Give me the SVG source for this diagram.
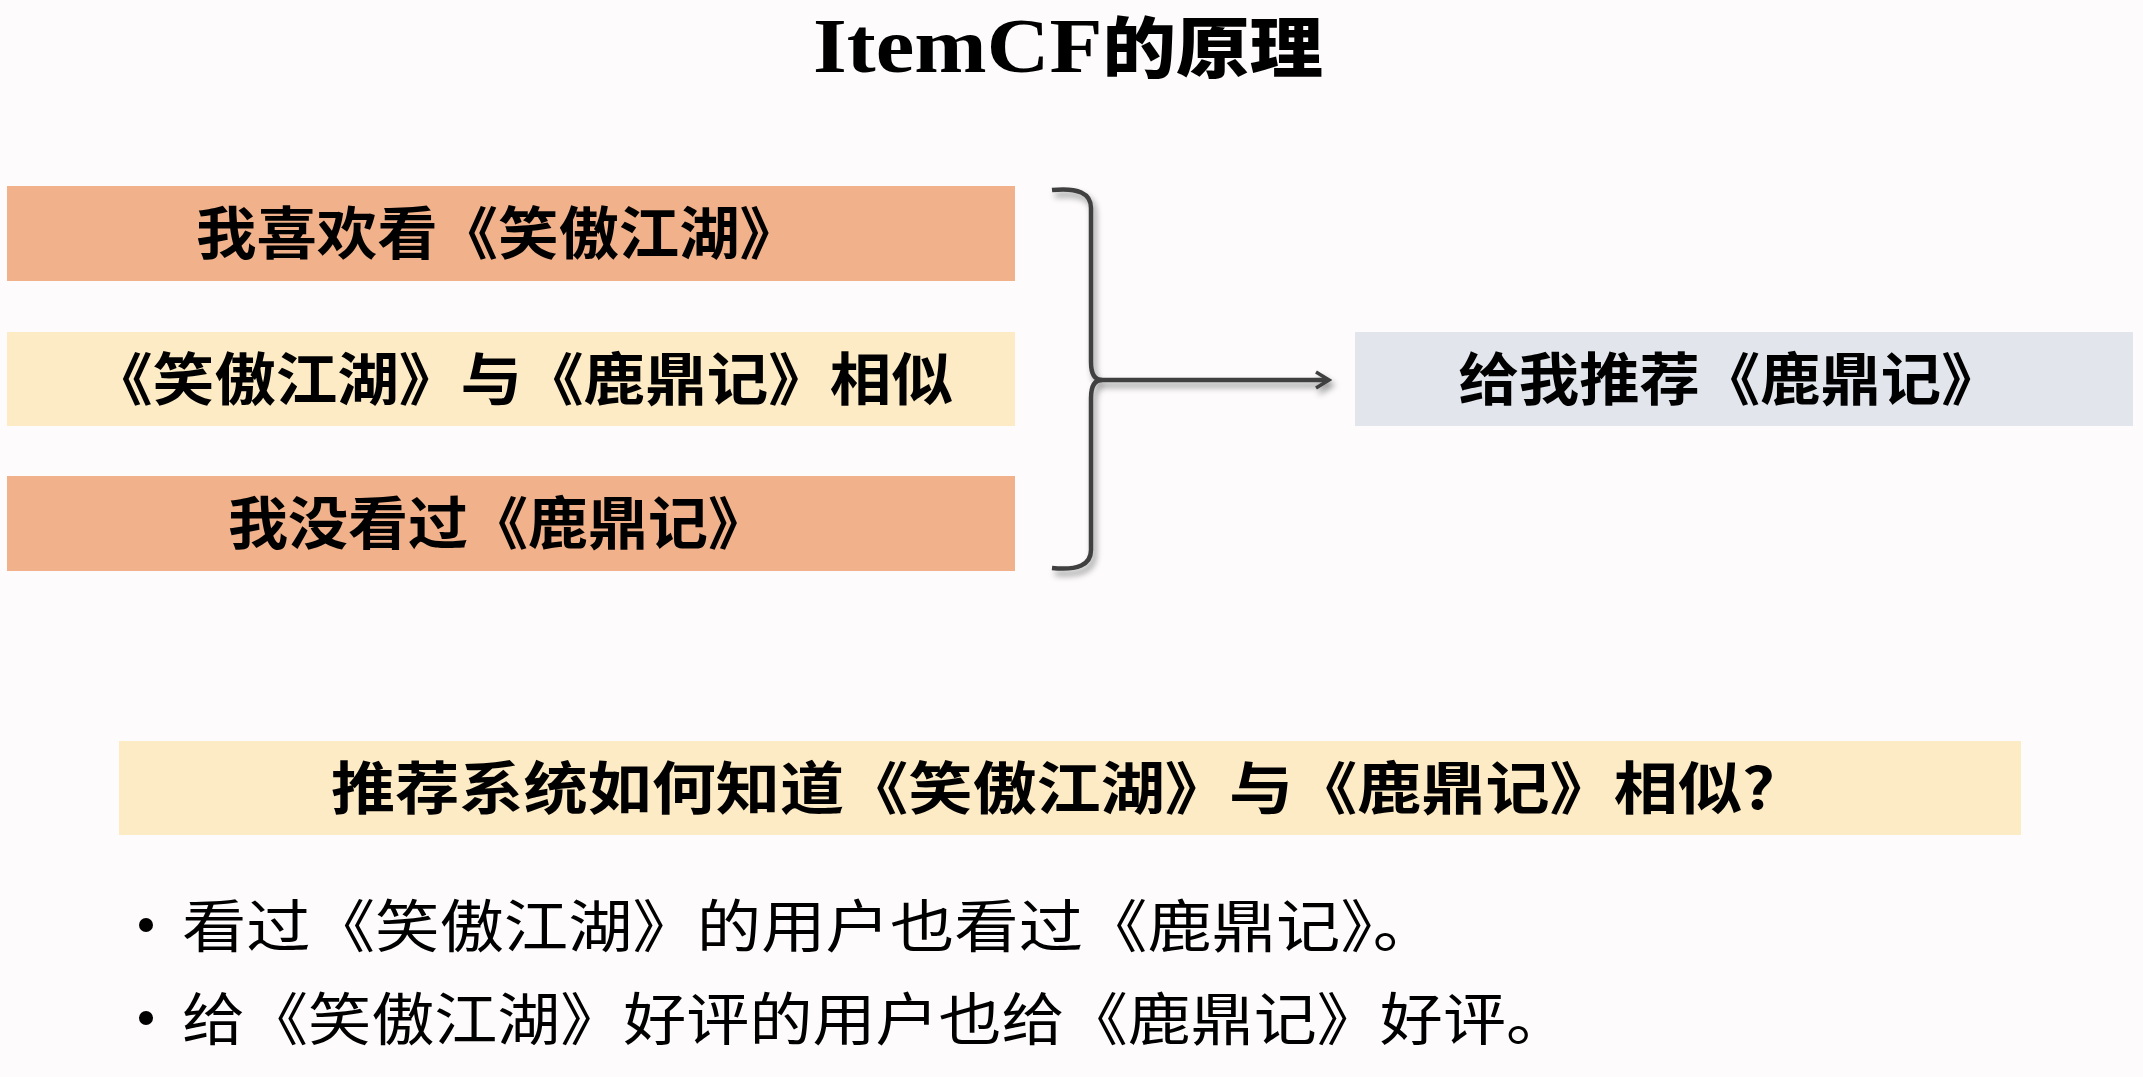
<svg xmlns="http://www.w3.org/2000/svg" width="2143" height="1077" viewBox="0 0 2143 1077">
  <style>
    .cjk { font-family: "Noto Sans CJK SC", "Noto Sans", sans-serif; fill: #000; }
    .box { font-size: 57px; font-weight: 700; text-anchor: middle; }
    .bul { font-size: 57px; font-weight: 400; }
    .title { font-family: "Liberation Serif", "Noto Sans CJK SC", serif; font-size: 78px; font-weight: 700; text-anchor: middle; }
  </style>
  <defs>
    <filter id="shadow" x="-20%" y="-20%" width="140%" height="140%">
      <feDropShadow dx="3" dy="5" stdDeviation="3" flood-color="#000" flood-opacity="0.4"/>
    </filter>
    <marker id="arrow" viewBox="0 0 20 20" refX="16" refY="10" markerWidth="20" markerHeight="20" markerUnits="userSpaceOnUse" orient="auto">
      <path d="M4,2 L17,10 L4,18" fill="none" stroke="#404040" stroke-width="3.5"/>
    </marker>
  </defs>
  <rect width="2143" height="1077" fill="#fdfbfc"/>

  <g id="title">
    <text class="title" x="1068" y="72" textLength="510" lengthAdjust="spacingAndGlyphs">ItemCF<tspan font-family="Noto Sans CJK SC, sans-serif" font-weight="900" font-size="66">的原理</tspan></text>
  </g>

  <g id="node-like">
    <rect x="7" y="186" width="1008" height="95" fill="#f0b18b"/>
    <text class="cjk box" x="498" y="254" textLength="604" lengthAdjust="spacingAndGlyphs">我喜欢看《笑傲江湖》</text>
  </g>
  <g id="node-similar">
    <rect x="7" y="332" width="1008" height="94" fill="#fcebc5"/>
    <text class="cjk box" x="522" y="400" textLength="862" lengthAdjust="spacingAndGlyphs">《笑傲江湖》与《鹿鼎记》相似</text>
  </g>
  <g id="node-notseen">
    <rect x="7" y="476" width="1008" height="95" fill="#f0b18b"/>
    <text class="cjk box" x="498" y="544" textLength="540" lengthAdjust="spacingAndGlyphs">我没看过《鹿鼎记》</text>
  </g>
  <g id="node-recommend">
    <rect x="1355" y="332" width="778" height="94" fill="#e2e6ec"/>
    <text class="cjk box" x="1730" y="400" textLength="543" lengthAdjust="spacingAndGlyphs">给我推荐《鹿鼎记》</text>
  </g>

  <g id="connectors" filter="url(#shadow)">
    <path d="M1052,190 Q1091,186 1091,208 V362 Q1091,380 1102,380 Q1091,380 1091,398 V550 Q1091,572 1052,568" fill="none" stroke="#404040" stroke-width="4.5"/>
    <path d="M1098,380 H1328" fill="none" stroke="#404040" stroke-width="4.5" marker-end="url(#arrow)"/>
  </g>

  <g id="node-question">
    <rect x="119" y="741" width="1902" height="94" fill="#fcebc5"/>
    <text class="cjk box" x="1053" y="809" textLength="1444" lengthAdjust="spacingAndGlyphs">推荐系统如何知道《笑傲江湖》与《鹿鼎记》相似?</text>
  </g>

  <g id="bullets">
    <circle cx="146" cy="925" r="7" fill="#000"/>
    <text class="cjk bul" x="182" y="947" textLength="1255" lengthAdjust="spacingAndGlyphs">看过《笑傲江湖》的用户也看过《鹿鼎记》。</text>
    <circle cx="146" cy="1018" r="7" fill="#000"/>
    <text class="cjk bul" x="182" y="1040" textLength="1387" lengthAdjust="spacingAndGlyphs">给《笑傲江湖》好评的用户也给《鹿鼎记》好评。</text>
  </g>
</svg>
